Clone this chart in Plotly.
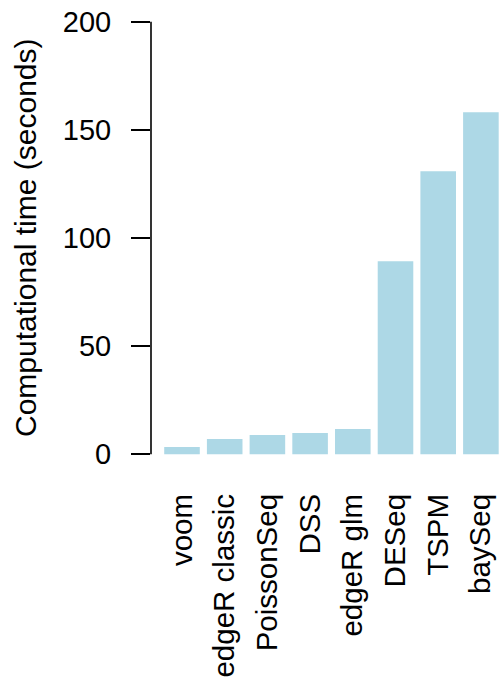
import plotly.graph_objects as go

# Run time of each differential-expression method (seconds)
methods = ["voom", "edgeR classic", "PoissonSeq", "DSS", "edgeR glm",
           "DESeq", "TSPM", "baySeq"]
seconds = [3.4, 7.1, 8.9, 9.8, 11.7, 89.3, 130.9, 158.2]

y_ticks = [0, 50, 100, 150, 200]

FONT = "Liberation Sans, Arial, sans-serif"

fig = go.Figure(
    go.Bar(
        x=methods,
        y=seconds,
        marker=dict(color="#ADD8E6", line=dict(width=0)),
        hoverinfo="x+y",
    )
)

fig.update_layout(
    width=499,
    height=677,
    margin=dict(l=151, r=0, t=4, b=205),
    plot_bgcolor="white",
    paper_bgcolor="white",
    bargap=1 / 6,
    showlegend=False,
    font=dict(family=FONT, size=29, color="black"),
)

fig.update_xaxes(
    type="category",
    range=[-0.726, 7.424],
    showline=False,
    showgrid=False,
    zeroline=False,
    ticks="",
    tickangle=-90,
    ticklabelstandoff=15,
    tickfont=dict(family=FONT, size=29.5, color="black"),
)

fig.update_yaxes(
    range=[-8.18, 208.2],
    tickvals=y_ticks,
    ticktext=[str(v) for v in y_ticks],
    showline=False,
    showgrid=False,
    zeroline=False,
    ticks="outside",
    ticklen=19,
    tickwidth=1.6,
    tickcolor="black",
    ticklabelstandoff=14,
    tickfont=dict(family=FONT, size=29, color="black"),
)

# Axis line spanning only the labelled range, as in base-R axes
fig.add_shape(
    type="line",
    xref="paper", yref="y",
    x0=0, x1=0, y0=y_ticks[0], y1=y_ticks[-1],
    line=dict(color="black", width=1.6),
)

fig.add_annotation(
    text="Computational time (seconds)",
    textangle=-90,
    xref="paper", yref="y",
    x=0, y=100,
    xshift=-126,
    xanchor="center", yanchor="middle",
    showarrow=False,
    font=dict(family=FONT, size=30, color="black"),
)

fig.write_html("out.html")
